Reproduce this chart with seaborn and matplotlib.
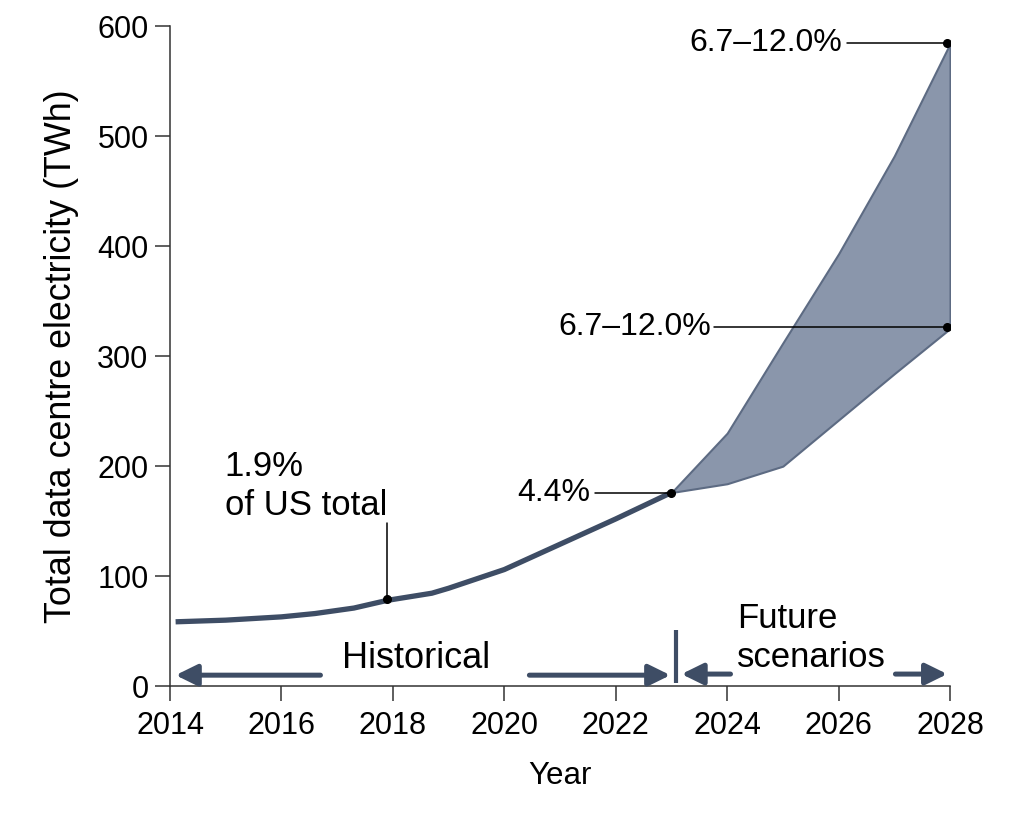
import matplotlib
matplotlib.use("Agg")
import matplotlib.pyplot as plt
import seaborn as sns
import pandas as pd

# Historical US data centre electricity use (TWh)
hist_years = [2014.1, 2015, 2016, 2016.6, 2017.3, 2017.9, 2018.7, 2019, 2020, 2021, 2022, 2023]
hist_twh = [58.5, 60, 63, 66, 71, 78, 84.5, 89, 106, 129, 152, 176]

# Future scenario range (TWh)
future_years = [2023, 2024, 2025, 2026, 2027, 2028]
future_low = [176, 184, 200, 242, 284, 325]
future_high = [176, 230, 312, 393, 482, 584]

x_ticks = [2014, 2016, 2018, 2020, 2022, 2024, 2026, 2028]
y_ticks = [0, 100, 200, 300, 400, 500, 600]

line_col = "#3e4d65"
fill_col = "#8a96ab"
edge_col = "#5d6b83"

sns.set_style("ticks")
plt.rcParams["font.family"] = ["Liberation Sans", "DejaVu Sans"]
plt.rcParams["text.color"] = "black"
plt.rcParams["axes.labelcolor"] = "black"
plt.rcParams["xtick.labelcolor"] = "black"
plt.rcParams["ytick.labelcolor"] = "black"

fig = plt.figure(figsize=(10.2, 8.13), dpi=100)
ax = fig.add_axes([0.1667, 0.156, 0.7647, 0.812])

hist_df = pd.DataFrame({"Year": hist_years, "TWh": hist_twh})
sns.lineplot(data=hist_df, x="Year", y="TWh", ax=ax, color=line_col,
             linewidth=3.8, solid_capstyle="butt", zorder=3)

ax.fill_between(future_years, future_low, future_high, facecolor=fill_col,
                edgecolor=edge_col, linewidth=1.5, zorder=2)

# annotation dots and leader lines
ax.plot([2017.9], [79], "o", color="black", ms=5.5, zorder=5)
ax.plot([2017.9, 2017.9], [79, 148], color="black", lw=1.1, zorder=4)
ax.text(2014.98, 182, "1.9%\nof US total", fontsize=25, ha="left", va="center",
        linespacing=1.25)

ax.plot([2023], [176], "o", color="black", ms=5.5, zorder=5)
ax.plot([2021.62, 2023], [176, 176], color="black", lw=1.1, zorder=4)
ax.text(2021.55, 176, "4.4%", fontsize=23, ha="right", va="center")

ax.plot([2028 - 0.05], [326], "o", color="black", ms=5.5, zorder=5)
ax.plot([2023.77, 2027.95], [326, 326], color="black", lw=1.1, zorder=4)
ax.text(2023.72, 326, "6.7\u201312.0%", fontsize=23, ha="right", va="center")

ax.plot([2028 - 0.05], [585], "o", color="black", ms=5.5, zorder=5)
ax.plot([2026.15, 2027.95], [585, 585], color="black", lw=1.1, zorder=4)
ax.text(2026.07, 585, "6.7\u201312.0%", fontsize=23, ha="right", va="center")

# period arrows
def arrow(x0, x1, y):
    ax.annotate("", xy=(x1, y), xytext=(x0, y),
                arrowprops=dict(arrowstyle="-|>,head_length=0.65,head_width=0.32",
                                lw=3.6, color=line_col, mutation_scale=20,
                                shrinkA=0, shrinkB=0), zorder=4)

arrow(2016.7, 2014.1, 10)
arrow(2020.45, 2022.98, 10)
arrow(2024.06, 2023.18, 11)
arrow(2027.02, 2027.95, 11)
ax.plot([2023.09, 2023.09], [3, 51], color=line_col, lw=3, solid_capstyle="butt")

ax.text(2018.42, 25, "Historical", fontsize=26, ha="center", va="center")
ax.text(2024.17, 44, "Future\nscenarios", fontsize=25, ha="left", va="center",
        linespacing=1.25)

ax.set_xlim(2014, 2028)
ax.set_ylim(0, 600)
ax.set_xticks(x_ticks)
ax.set_yticks(y_ticks)
ax.tick_params(labelsize=22, length=11, width=1.1, color="#333333")
ax.tick_params(axis="x", pad=7)
ax.tick_params(axis="y", pad=4.5)
ax.set_xlabel("Year", fontsize=22.5, labelpad=14)
ax.set_ylabel("Total data centre electricity (TWh)", fontsize=25.8, labelpad=13)
sns.despine(ax=ax)
for s in ["left", "bottom"]:
    ax.spines[s].set_linewidth(1.1)
    ax.spines[s].set_color("#333333")

fig.savefig("out.png", dpi=100)
